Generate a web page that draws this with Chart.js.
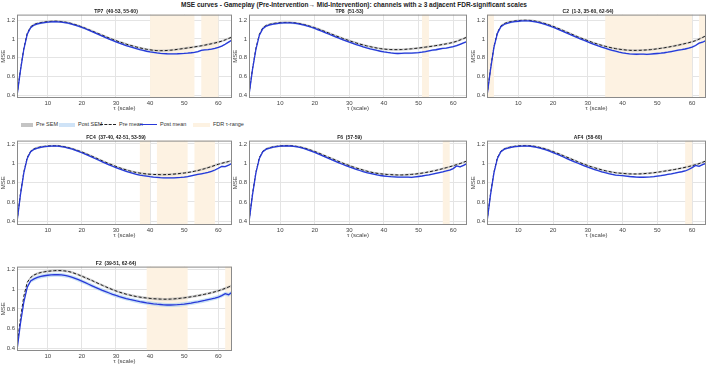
<!DOCTYPE html>
<html>
<head>
<meta charset="utf-8">
<script src="https://cdn.jsdelivr.net/npm/chart.js@4.4.1/dist/chart.umd.min.js"></script>
<style>
  body { margin: 0; background: #fff; width: 708px; height: 368px; position: relative; overflow: hidden; font-family: "Liberation Sans", Arial, sans-serif; }
  canvas { position: absolute; }
  #title { position: absolute; top: 1px; left: 0; width: 708px; text-align: center; font-weight: bold; font-size: 6.5px; color: #222; line-height: 8px; z-index: 2; }
  #legend { position: absolute; top: 121px; left: 20px; height: 8px; font-size: 5.5px; color: #333; }
  #legend span { position: absolute; top: 0; white-space: nowrap; line-height: 7px; }
  .box { display: inline-block; width: 12px; height: 4px; vertical-align: middle; margin-right: 3px; }
</style>
</head>
<body>
<div id="title">MSE curves - Gameplay (Pre-Intervention→ Mid-Intervention): channels with ≥ 3 adjacent FDR-significant scales</div>
<div id="legend">
  <span style="left:1px"><i class="box" style="background:#c4c4c4"></i>Pre SEM</span>
  <span style="left:39px"><i class="box" style="background:#cfe3f7;width:16px"></i>Post SEM</span>
  <span style="left:80px"><i class="box" style="height:0;border-top:1px dashed #222;width:16px"></i>Pre mean</span>
  <span style="left:120px"><i class="box" style="height:0;border-top:1.3px solid #2838d8;width:17px"></i>Post mean</span>
  <span style="left:173px"><i class="box" style="background:#fdf2e2;width:17px"></i>FDR τ-range</span>
</div>

<script>
const scales = [1,2,3,4,5,6,7,8,9,10,11,12,13,14,15,16,17,18,19,20,21,22,23,24,25,26,27,28,29,30,31,32,
  33,34,35,36,37,38,39,40,41,42,43,44,45,46,47,48,49,50,51,52,53,54,55,56,57,58,59,60,61,62,63,64];

const channels = ['TP7', 'TP8', 'C2', 'FC4', 'F6', 'AF4', 'F2'];
const titles = ['TP7  (40-53, 55-60)', 'TP8  (51-53)', 'C2  (1-3, 35-60, 62-64)',
  'FC4  (37-40, 42-51, 53-59)', 'F6  (57-59)', 'AF4  (58-60)', 'F2  (39-51, 62-64)'];
const fdrRanges = [
  [[40, 53], [55, 60]],
  [[51, 53]],
  [[1, 3], [35, 60], [62, 64]],
  [[37, 40], [42, 51], [53, 59]],
  [[57, 59]],
  [[58, 60]],
  [[39, 51], [62, 64]]
];
const semPre  = [0.012, 0.012, 0.011, 0.011, 0.011, 0.011, 0.013];
const semPost = [0.010, 0.010, 0.010, 0.009, 0.009, 0.009, 0.020];

const preTP7 = [0.40,0.67,0.90,1.06,1.13,1.155,1.167,1.175,
  1.181,1.185,1.188,1.190,1.189,1.186,1.181,1.174,
  1.165,1.154,1.142,1.129,1.115,1.100,1.085,1.070,
  1.055,1.040,1.025,1.010,0.996,0.982,0.969,0.957,
  0.945,0.934,0.924,0.914,0.905,0.897,0.890,0.884,
  0.879,0.876,0.875,0.875,0.877,0.880,0.884,0.889,
  0.894,0.899,0.904,0.909,0.915,0.921,0.927,0.934,
  0.941,0.949,0.957,0.966,0.977,0.990,1.005,1.020];
const postTP7 = [0.39,0.66,0.89,1.05,1.12,1.148,1.160,1.168,
  1.174,1.179,1.182,1.184,1.183,1.180,1.175,1.168,
  1.159,1.148,1.136,1.123,1.109,1.094,1.078,1.062,
  1.046,1.030,1.014,0.999,0.984,0.970,0.956,0.943,
  0.930,0.918,0.907,0.896,0.886,0.877,0.869,0.862,
  0.856,0.851,0.847,0.844,0.842,0.841,0.841,0.842,
  0.844,0.846,0.849,0.853,0.858,0.864,0.878,0.884,
  0.886,0.892,0.900,0.910,0.924,0.944,0.966,0.988];

const preTP8 = [0.41,0.68,0.90,1.05,1.12,1.145,1.157,1.165,
  1.170,1.174,1.176,1.177,1.176,1.173,1.168,1.161,
  1.153,1.143,1.132,1.120,1.107,1.093,1.079,1.064,
  1.050,1.035,1.021,1.007,0.994,0.981,0.969,0.957,
  0.946,0.936,0.926,0.918,0.910,0.903,0.897,0.892,
  0.889,0.887,0.886,0.886,0.887,0.889,0.892,0.895,
  0.899,0.903,0.908,0.913,0.918,0.923,0.929,0.935,
  0.941,0.948,0.955,0.964,0.975,0.989,1.004,1.020];
const postTP8 = [0.40,0.67,0.89,1.04,1.11,1.138,1.150,1.158,
  1.164,1.168,1.171,1.172,1.171,1.168,1.163,1.156,
  1.147,1.137,1.125,1.112,1.098,1.083,1.068,1.053,
  1.038,1.023,1.008,0.994,0.980,0.966,0.953,0.940,
  0.928,0.916,0.905,0.895,0.886,0.877,0.869,0.862,
  0.856,0.851,0.847,0.845,0.846,0.848,0.848,0.849,
  0.852,0.855,0.860,0.866,0.873,0.880,0.885,0.893,
  0.900,0.903,0.910,0.917,0.928,0.943,0.958,0.972];

const preC2 = [0.40,0.68,0.92,1.07,1.14,1.165,1.178,1.186,
  1.192,1.196,1.199,1.200,1.199,1.196,1.190,1.182,
  1.172,1.161,1.149,1.135,1.120,1.105,1.089,1.073,
  1.057,1.041,1.025,1.010,0.996,0.982,0.968,0.955,
  0.943,0.932,0.922,0.912,0.904,0.897,0.891,0.886,
  0.882,0.879,0.878,0.878,0.879,0.881,0.883,0.886,
  0.890,0.895,0.900,0.906,0.912,0.919,0.926,0.934,
  0.942,0.951,0.960,0.970,0.982,0.998,1.016,1.034];
const postC2 = [0.39,0.67,0.91,1.06,1.13,1.157,1.170,1.179,
  1.185,1.189,1.192,1.193,1.192,1.188,1.182,1.174,
  1.164,1.152,1.139,1.125,1.110,1.094,1.078,1.062,
  1.046,1.030,1.014,0.999,0.984,0.969,0.954,0.940,
  0.926,0.913,0.901,0.890,0.879,0.869,0.860,0.852,
  0.846,0.841,0.838,0.837,0.838,0.838,0.836,0.839,
  0.842,0.845,0.848,0.853,0.859,0.866,0.873,0.880,
  0.886,0.893,0.902,0.914,0.930,0.955,0.965,0.983];

const preFC4 = [0.40,0.68,0.91,1.06,1.125,1.150,1.162,1.170,
  1.175,1.179,1.181,1.182,1.181,1.177,1.171,1.163,
  1.153,1.142,1.130,1.117,1.103,1.088,1.073,1.057,
  1.041,1.025,1.010,0.995,0.981,0.967,0.954,0.942,
  0.931,0.921,0.912,0.904,0.898,0.893,0.889,0.886,
  0.884,0.883,0.882,0.882,0.883,0.885,0.888,0.891,
  0.895,0.899,0.904,0.910,0.917,0.925,0.934,0.944,
  0.955,0.966,0.978,0.990,1.000,1.009,1.018,1.028];
const postFC4 = [0.39,0.67,0.90,1.05,1.12,1.145,1.158,1.166,
  1.172,1.176,1.178,1.179,1.177,1.173,1.167,1.158,
  1.148,1.136,1.123,1.109,1.094,1.079,1.063,1.047,
  1.031,1.015,0.999,0.984,0.969,0.955,0.941,0.928,
  0.916,0.905,0.895,0.886,0.878,0.871,0.866,0.861,
  0.857,0.854,0.851,0.849,0.848,0.848,0.849,0.851,
  0.853,0.856,0.862,0.870,0.878,0.885,0.891,0.897,
  0.905,0.915,0.930,0.948,0.968,0.966,0.980,1.000];

const preF6 = [0.40,0.68,0.91,1.06,1.125,1.150,1.162,1.170,
  1.176,1.180,1.182,1.183,1.182,1.179,1.174,1.167,
  1.158,1.147,1.135,1.122,1.108,1.093,1.078,1.063,
  1.048,1.033,1.018,1.003,0.989,0.976,0.963,0.951,
  0.940,0.929,0.919,0.910,0.902,0.896,0.891,0.887,
  0.884,0.882,0.880,0.879,0.879,0.880,0.882,0.885,
  0.888,0.893,0.898,0.904,0.911,0.918,0.926,0.935,
  0.944,0.954,0.964,0.974,0.986,0.997,1.010,1.024];
const postF6 = [0.39,0.67,0.90,1.05,1.12,1.146,1.158,1.167,
  1.173,1.177,1.179,1.180,1.179,1.175,1.169,1.161,
  1.151,1.139,1.126,1.112,1.097,1.082,1.066,1.050,
  1.035,1.020,1.005,0.990,0.976,0.962,0.949,0.937,
  0.925,0.914,0.904,0.895,0.887,0.879,0.873,0.868,
  0.864,0.861,0.859,0.857,0.856,0.856,0.857,0.853,
  0.858,0.863,0.868,0.874,0.880,0.887,0.895,0.903,
  0.911,0.920,0.930,0.945,0.972,0.962,0.978,0.997];

const preAF4 = [0.40,0.68,0.91,1.06,1.125,1.150,1.162,1.170,
  1.176,1.180,1.182,1.183,1.182,1.179,1.174,1.166,
  1.157,1.146,1.134,1.121,1.107,1.093,1.078,1.063,
  1.048,1.033,1.018,1.003,0.989,0.976,0.964,0.953,
  0.942,0.932,0.923,0.915,0.908,0.902,0.898,0.895,
  0.892,0.890,0.889,0.889,0.890,0.892,0.895,0.898,
  0.902,0.907,0.912,0.918,0.924,0.930,0.936,0.943,
  0.950,0.958,0.966,0.975,0.985,0.996,1.010,1.024];
const postAF4 = [0.39,0.67,0.90,1.05,1.12,1.146,1.158,1.166,
  1.172,1.176,1.178,1.179,1.178,1.174,1.168,1.160,
  1.150,1.138,1.125,1.111,1.096,1.081,1.065,1.049,
  1.033,1.018,1.003,0.988,0.974,0.960,0.947,0.935,
  0.923,0.912,0.902,0.893,0.885,0.878,0.874,0.871,
  0.867,0.863,0.860,0.857,0.855,0.855,0.856,0.858,
  0.862,0.867,0.872,0.878,0.884,0.890,0.897,0.905,
  0.912,0.920,0.935,0.955,0.978,0.968,0.985,1.000];

const preF2 = [0.42,0.70,0.93,1.07,1.12,1.145,1.160,1.170,
  1.177,1.182,1.186,1.189,1.190,1.189,1.186,1.181,
  1.172,1.160,1.147,1.133,1.118,1.103,1.088,1.072,
  1.056,1.040,1.025,1.010,0.996,0.983,0.971,0.960,
  0.950,0.941,0.933,0.926,0.920,0.915,0.911,0.907,
  0.904,0.902,0.900,0.899,0.899,0.900,0.902,0.905,
  0.909,0.913,0.918,0.923,0.929,0.935,0.942,0.949,
  0.957,0.965,0.974,0.984,0.996,1.009,1.023,1.038];
const postF2 = [0.38,0.65,0.87,1.02,1.085,1.105,1.120,1.130,
  1.137,1.142,1.145,1.147,1.147,1.145,1.140,1.133,
  1.123,1.111,1.097,1.082,1.067,1.051,1.035,1.019,
  1.004,0.989,0.975,0.962,0.949,0.937,0.926,0.916,
  0.906,0.897,0.889,0.881,0.874,0.868,0.862,0.857,
  0.852,0.848,0.845,0.842,0.840,0.840,0.841,0.843,
  0.846,0.850,0.855,0.860,0.866,0.872,0.879,0.886,
  0.894,0.902,0.911,0.921,0.935,0.955,0.945,0.970];

const preMeans  = [preTP7, preTP8, preC2, preFC4, preF6, preAF4, preF2];
const postMeans = [postTP7, postTP8, postC2, postFC4, postF6, postAF4, postF2];

const xTicks = [10, 20, 30, 40, 50, 60];
const yTicks = [0.4, 0.6, 0.8, 1, 1.2];

// layout of the 3x3 grid (only 7 panels used)
const cols = [{ l: 17, r: 232 }, { l: 249, r: 467 }, { l: 487, r: 706 }];
const rows = [{ t: 14, b: 98, min: 0.37, max: 1.26 }, { t: 140, b: 225, min: 0.36, max: 1.235 }, { t: 266, b: 351, min: 0.373, max: 1.23 }];
const Y_W = 17, X_H = 14, TITLE_H = 5;

const fdrShade = {
  id: 'fdrShade',
  beforeDatasetsDraw(chart, args, opts) {
    const { ctx, chartArea: a, scales: { x } } = chart;
    ctx.save();
    ctx.fillStyle = '#fdf2e2';
    opts.ranges.forEach(([s, e]) => {
      const x0 = x.getPixelForValue(s), x1 = x.getPixelForValue(e);
      ctx.fillRect(x0, a.top, x1 - x0, a.bottom - a.top);
    });
    ctx.restore();
  }
};
const boxBorder = {
  id: 'boxBorder',
  afterDatasetsDraw(chart) {
    const { ctx, chartArea: a } = chart;
    ctx.save();
    ctx.strokeStyle = '#8a8a8a';
    ctx.lineWidth = 1;
    ctx.strokeRect(a.left + 0.5, a.top + 0.5, a.right - a.left - 1, a.bottom - a.top - 1);
    ctx.restore();
  }
};

const pts = (vals, d) => scales.map((s, i) => ({ x: s, y: vals[i] + d }));
const tickFont = { family: 'Liberation Sans', size: 6 };

channels.forEach((ch, k) => {
  const c = cols[k % 3], r = rows[Math.floor(k / 3)];
  const cv = document.createElement('canvas');
  const w = (c.r - c.l) + Y_W + 2, h = (r.b - r.t) + TITLE_H + X_H;
  cv.width = w; cv.height = h;
  cv.style.left = (c.l - Y_W) + 'px';
  cv.style.top = (r.t - TITLE_H) + 'px';
  document.body.appendChild(cv);

  const pre = preMeans[k], post = postMeans[k];
  new Chart(cv, {
    type: 'line',
    data: {
      datasets: [
        { data: pts(pre, semPre[k]), borderWidth: 0, pointRadius: 0, fill: false, order: 4 },
        { data: pts(pre, -semPre[k]), borderWidth: 0, pointRadius: 0, fill: '-1', backgroundColor: 'rgba(170,170,170,0.55)', order: 4 },
        { data: pts(post, semPost[k]), borderWidth: 0, pointRadius: 0, fill: false, order: 3 },
        { data: pts(post, -semPost[k]), borderWidth: 0, pointRadius: 0, fill: '-1', backgroundColor: 'rgba(165,205,240,0.6)', order: 3 },
        { data: pts(pre, 0), borderColor: '#1a1a1a', borderWidth: 1, borderDash: [3, 2], pointRadius: 0, fill: false, order: 1 },
        { data: pts(post, 0), borderColor: '#2838d8', borderWidth: 1.3, pointRadius: 0, fill: false, order: 0 }
      ]
    },
    options: {
      responsive: false,
      animation: false,
      devicePixelRatio: 1,
      layout: { padding: { left: 0, right: 2, top: 0, bottom: 0 } },
      plugins: {
        legend: { display: false },
        tooltip: { enabled: false },
        title: {
          display: true, text: titles[k], color: '#222',
          font: { family: 'Liberation Sans', size: 5, weight: 'bold', lineHeight: 1 },
          padding: { top: 0, bottom: 0 }
        },
        fdrShade: { ranges: fdrRanges[k] }
      },
      scales: {
        x: {
          type: 'linear', min: 1, max: 64,
          afterBuildTicks: s => { s.ticks = xTicks.map(v => ({ value: v })); },
          afterFit: s => { s.height = X_H; },
          grid: { color: '#e4e4e4', drawTicks: false },
          border: { display: false },
          ticks: { color: '#444', font: tickFont, padding: 2, maxRotation: 0 },
          title: { display: true, text: 'τ (scale)', color: '#444', font: tickFont, padding: { top: 0, bottom: 0 } }
        },
        y: {
          min: r.min, max: r.max,
          afterBuildTicks: s => { s.ticks = yTicks.map(v => ({ value: v })); },
          afterFit: s => { s.width = Y_W; },
          grid: { color: '#e4e4e4', drawTicks: false },
          border: { display: false },
          ticks: { color: '#444', font: tickFont, padding: 2, callback: v => String(+v.toFixed(1)) },
          title: { display: true, text: 'MSE', color: '#444', font: tickFont, padding: { top: 0, bottom: 0 } }
        }
      }
    },
    plugins: [fdrShade, boxBorder]
  });
});
</script>
</body>
</html>
